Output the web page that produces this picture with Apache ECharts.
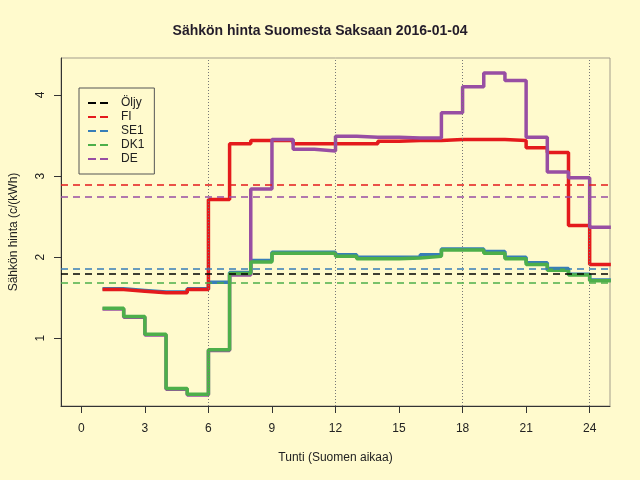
<!DOCTYPE html>
<html>
<head>
<meta charset="utf-8">
<script src="https://cdn.jsdelivr.net/npm/echarts@6/dist/echarts.min.js"></script>
<style>
  html, body { margin: 0; padding: 0; background: #FFFACD; }
  #chart { width: 640px; height: 480px; }
</style>
</head>
<body>
<div id="chart"></div>
<script>
// hourly prices, c/kWh (hour plotted 1..24)
const hours = [1, 2, 3, 4, 5, 6, 7, 8, 9, 10, 11, 12, 13, 14, 15, 16, 17, 18, 19, 20, 21, 22, 23, 24];
const fi  = [1.60, 1.58, 1.56, 1.56, 1.60, 2.71, 3.40, 3.44, 3.44, 3.40, 3.40, 3.40, 3.40, 3.43, 3.44, 3.44, 3.45, 3.45, 3.45, 3.44, 3.35, 3.29, 2.39, 1.91];
const se1 = [1.61, 1.59, 1.57, 1.57, 1.61, 1.69, 1.81, 1.96, 2.06, 2.06, 2.06, 2.03, 2.00, 2.00, 2.00, 2.03, 2.10, 2.10, 2.07, 2.00, 1.93, 1.86, 1.79, 1.72];
const dk1 = [1.37, 1.27, 1.05, 0.38, 0.31, 0.86, 1.80, 1.94, 2.05, 2.05, 2.05, 2.01, 1.98, 1.98, 1.99, 2.01, 2.09, 2.09, 2.05, 1.98, 1.91, 1.84, 1.78, 1.71];
const de  = [1.36, 1.26, 1.04, 0.37, 0.30, 0.85, 1.78, 2.84, 3.45, 3.33, 3.31, 3.49, 3.48, 3.48, 3.47, 3.47, 3.78, 4.10, 4.27, 4.18, 3.48, 3.05, 2.98, 2.37];

// reference levels (dashed lines)
const levelNames  = ['Öljy', 'FI', 'SE1', 'DK1', 'DE'];
const levelValues = [1.80, 2.89, 1.86, 1.69, 2.75];

const xTicks = [0, 3, 6, 9, 12, 15, 18, 21, 24];
const yTicks = [1, 2, 3, 4];
const gridHours = [6, 12, 18, 24];

const colors = { 'Öljy': '#000000', 'FI': '#E41A1C', 'SE1': '#377EB8', 'DK1': '#4DAF4A', 'DE': '#984EA3' };
const font = 'Liberation Sans, Arial, sans-serif';
// two short dashes as legend key
const dashIcon = 'path://M0,0h8v2h-8z M12,0h8v2h-8z';

// R type="s": value holds until next hour, last one runs to hour 25
function stepData(vals) {
    const pts = hours.map((h, i) => [h, vals[i]]);
    pts.push([hours[hours.length - 1] + 1, vals[vals.length - 1]]);
    return pts;
}

function stepSeries(name, vals) {
    return {
        name: name + ' tunneittain',
        type: 'line',
        step: 'end',
        data: stepData(vals),
        symbol: 'none',
        silent: true,
        lineStyle: { color: colors[name], width: 3.5 },
        z: 3
    };
}

const levelSeries = levelNames.map((name, i) => ({
    name: name,
    type: 'line',
    data: [],
    symbol: 'none',
    silent: true,
    color: colors[name],
    lineStyle: { color: colors[name], width: 1.6, type: [7, 5] },
    itemStyle: { color: colors[name] },
    markLine: {
        silent: true,
        symbol: 'none',
        label: { show: false },
        lineStyle: { color: colors[name], width: 1.6, type: [7, 5], opacity: 1 },
        data: [{ yAxis: levelValues[i] }]
    },
    z: 2
}));

const gridSeries = {
    name: 'grid',
    type: 'line',
    data: [],
    symbol: 'none',
    silent: true,
    markLine: {
        silent: true,
        symbol: 'none',
        label: { show: false },
        lineStyle: { color: '#777', width: 1, type: [1, 2] },
        data: gridHours.map(h => ({ xAxis: h }))
    },
    z: 1
};

const chart = echarts.init(document.getElementById('chart'));

const option = {
    backgroundColor: '#FFFACD',
    animation: false,
    title: {
        text: 'Sähkön hinta Suomesta Saksaan 2016-01-04',
        left: 'center',
        top: 19,
        padding: [5, 0, 5, 29],
        textStyle: { fontFamily: font, fontSize: 14, fontWeight: 'bold', color: '#231c2a' }
    },
    legend: {
        data: levelNames.map(n => ({ name: n, icon: dashIcon })),
        orient: 'vertical',
        left: 79,
        top: 88,
        padding: [8, 10, 8, 9],
        itemWidth: 20,
        itemHeight: 2,
        itemGap: 0,
        borderColor: '#555',
        borderWidth: 1,
        borderRadius: 0,
        selectedMode: false,
        textStyle: { fontFamily: font, fontSize: 12, color: '#222', lineHeight: 14, padding: [0, 0, 0, 8] }
    },
    grid: {
        left: 59,
        right: 30,
        top: 58,
        bottom: 74,
        show: true,
        borderColor: '#a39d8c',
        borderWidth: 1
    },
    xAxis: {
        type: 'value',
        min: -0.96,
        max: 24.96,
        name: 'Tunti (Suomen aikaa)',
        nameLocation: 'middle',
        nameGap: 46,
        nameTextStyle: { fontFamily: font, fontSize: 12, color: '#222' },
        axisLine: { onZero: false, lineStyle: { color: '#333', width: 1 } },
        axisTick: { customValues: xTicks, length: 7, lineStyle: { color: '#333' } },
        axisLabel: { customValues: xTicks, margin: 17, fontFamily: font, fontSize: 12, color: '#222' },
        splitLine: { show: false }
    },
    yAxis: {
        type: 'value',
        min: 0.165,
        max: 4.456,
        name: 'Sähkön hinta (c/(kWh)',
        nameLocation: 'middle',
        nameGap: 41,
        nameTextStyle: { fontFamily: font, fontSize: 12, color: '#222' },
        axisLine: { show: true, onZero: false, lineStyle: { color: '#333', width: 1 } },
        axisTick: { show: true, customValues: yTicks, length: 7, lineStyle: { color: '#333' } },
        axisLabel: { customValues: yTicks, rotate: 90, margin: 14, fontFamily: font, fontSize: 12, color: '#222' },
        splitLine: { show: false }
    },
    series: [
        gridSeries,
        ...levelSeries,
        stepSeries('SE1', se1),
        stepSeries('FI', fi),
        stepSeries('DE', de),
        stepSeries('DK1', dk1)
    ]
};

chart.setOption(option);
</script>
</body>
</html>
